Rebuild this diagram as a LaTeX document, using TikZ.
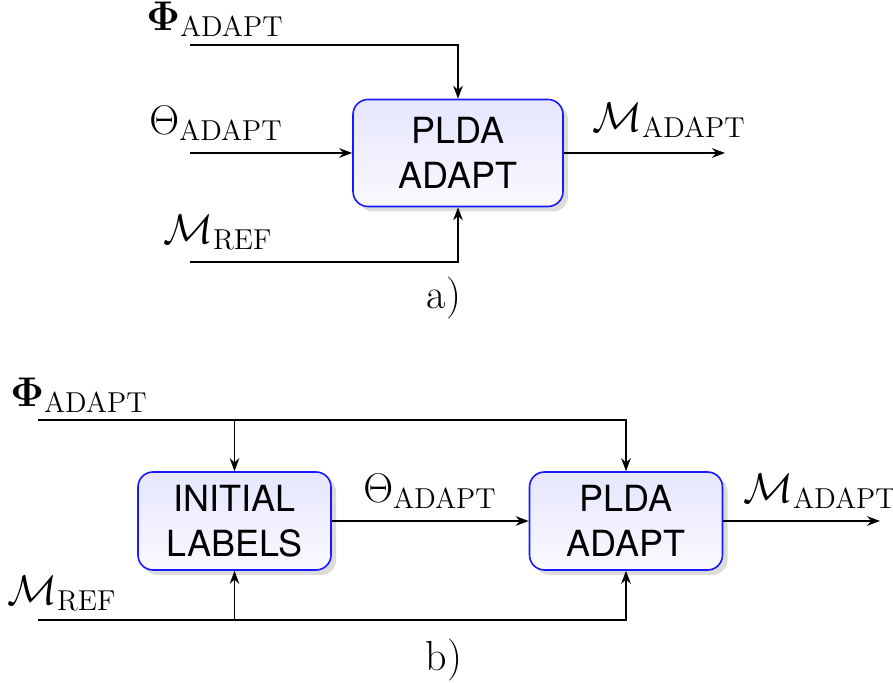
\documentclass[tikz,border=0pt]{standalone}
\usepackage[no-math]{fontspec}
\usepackage{bm}
\newfontfamily\boxfont{TeX Gyre Heros}
\usetikzlibrary{arrows.meta,shadows}
\tikzset{
  blk/.style={draw=blue!90, line width=0.8pt, rounded corners=7.5pt,
    top color=blue!10, bottom color=blue!2, inner sep=0pt,
    drop shadow={shadow xshift=2.5pt, shadow yshift=-2.5pt, opacity=0.3, fill=black!45},
    font=\boxfont\fontsize{18}{22.5}\selectfont, align=center},
  wire/.style={line width=0.9pt},
  arr/.style={wire, -{Stealth[length=6.5pt,width=4.8pt]}},
  lbl/.style={font=\fontsize{21}{24}\selectfont, inner sep=0pt}
}
\begin{document}
\begin{tikzpicture}[x=0.5pt,y=-0.5pt]
\useasboundingbox (0,0) rectangle (893,683);
% ---- a) ----
\node[blk, minimum width=105pt, minimum height=53.5pt] (pa) at (458,153) {PLDA\\ADAPT};
\coordinate (phiA) at (190,45);
\coordinate (thA) at (190,153);
\coordinate (mrA) at (190,262);
\coordinate (outA) at (725,153);
\draw[arr] (phiA) -| (pa.north);
\draw[arr] (thA) -- (pa.west);
\draw[arr] (mrA) -| (pa.south);
\draw[arr] (pa.east) -- (outA);
\node[lbl] (lphiA) at (215,19) {$\bm{\Phi}_{\mathrm{ADAPT}}$};
\node[lbl] (lthA) at (216,123) {$\Theta_{\mathrm{ADAPT}}$};
\node[lbl] (lmrA) at (218,232) {$\mathcal{M}_{\mathrm{REF}}$};
\node[lbl] (lmaA) at (669,120) {$\mathcal{M}_{\mathrm{ADAPT}}$};
\node[lbl] (capA) at (444,298) {a)};
% ---- b) ----
\node[blk, minimum width=96.5pt, minimum height=49pt] (il) at (234.5,521) {INITIAL\\LABELS};
\node[blk, minimum width=96.5pt, minimum height=49pt] (pb) at (626,521) {PLDA\\ADAPT};
\coordinate (phiB) at (38,420);
\coordinate (mrB) at (38,620);
\coordinate (outB) at (880,521);
\draw[arr] (phiB) -| (pb.north);
\draw[arr] (il.north |- phiB) -- (il.north);
\draw[arr] (mrB) -| (pb.south);
\draw[arr] (il.south |- mrB) -- (il.south);
\draw[arr] (il.east) -- (pb.west);
\draw[arr] (pb.east) -- (outB);
\node[lbl] (lphiB) at (79,395) {$\bm{\Phi}_{\mathrm{ADAPT}}$};
\node[lbl] (lmrB) at (62,593) {$\mathcal{M}_{\mathrm{REF}}$};
\node[lbl] (lthB) at (430,491) {$\Theta_{\mathrm{ADAPT}}$};
\node[lbl] (lmaB) at (820,491) {$\mathcal{M}_{\mathrm{ADAPT}}$};
\node[lbl] (capB) at (444,660) {b)};
\end{tikzpicture}
\end{document}
